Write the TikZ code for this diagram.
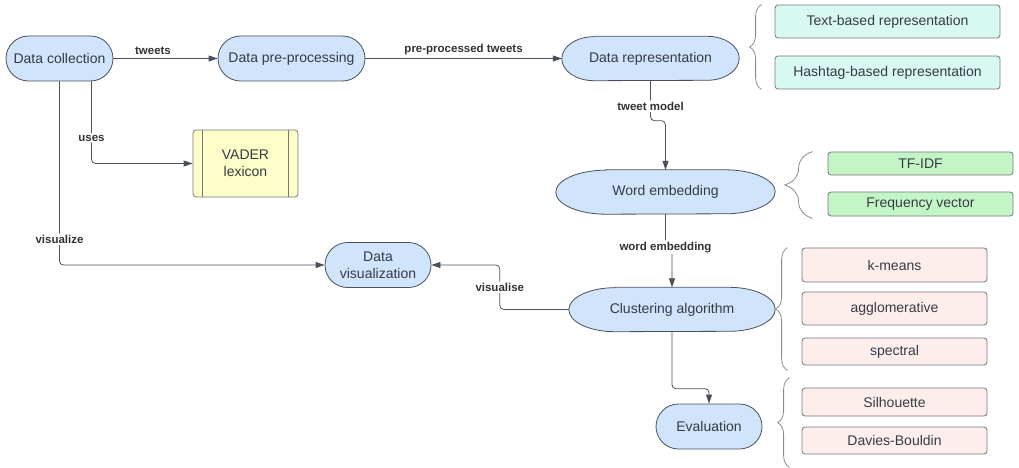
\documentclass[tikz,border=0pt]{standalone}
\usepackage{fontspec}
\setmainfont{Liberation Sans}
\usetikzlibrary{arrows.meta,calc,decorations.pathreplacing}
\pgfdeclarelayer{background}
\pgfsetlayers{background,main}
\definecolor{procblue}{HTML}{D0E4FC}
\definecolor{repcyan}{HTML}{D8F8F2}
\definecolor{embgreen}{HTML}{C4F5C6}
\definecolor{algpink}{HTML}{FDEEEC}
\definecolor{lexyellow}{HTML}{FEFEC8}
\definecolor{edgegray}{HTML}{4A505C}
\definecolor{boxgray}{HTML}{75787E}
\definecolor{txtgray}{HTML}{363B45}
\begin{document}
\begin{tikzpicture}[x=1pt,y=1pt,>={Triangle[length=9pt,width=6pt]},
  proc/.style={draw=edgegray,line width=0.8pt,fill=procblue,text=txtgray,rounded corners=22.5pt,
    minimum height=45pt,inner sep=0pt,align=center,font=\fontsize{14}{16.5}\selectfont},
  oval/.style={text=txtgray,minimum height=44pt,inner sep=0pt,font=\fontsize{14}{16.5}\selectfont},
  opt/.style={draw=boxgray,line width=0.8pt,rounded corners=3pt,inner sep=0pt,text=txtgray,
    font=\fontsize{14}{16.5}\selectfont},
  flow/.style={draw=edgegray,line width=0.8pt,->,rounded corners=4pt},
  lbl/.style={fill=white,text=black!80,inner sep=1.5pt,font=\bfseries\fontsize{11.5}{13}\selectfont},
  brc/.style={draw=black!45,line width=0.8pt,decorate,decoration={brace,amplitude=#1}}]
  \useasboundingbox (0,0) rectangle (1019,-468);

  \node[proc,minimum width=107pt] (dc) at (59.5,-58.5) {Data collection};
  \node[proc,minimum width=147pt] (pp) at (291.5,-58.5) {Data pre-processing};
  \node[oval,minimum width=177pt] (drep) at (650.5,-58.5) {Data representation};
  \node[oval,minimum width=219pt] (wemb) at (665.5,-192) {Word embedding};
  \node[oval,minimum width=206pt] (clus) at (672,-309.5) {Clustering algorithm};
  \node[proc,minimum width=106pt] (dviz) at (378,-265) {Data\\visualization};
  \node[proc,minimum width=106pt] (evl) at (709,-426.5) {Evaluation};
  \node[opt,fill=lexyellow,minimum width=105pt,minimum height=67pt,align=center] (vader) at (245.5,-163.5) {VADER\\lexicon};
  \draw[boxgray,line width=0.8pt] ([xshift=10pt]vader.north west) -- ([xshift=10pt]vader.south west);
  \draw[boxgray,line width=0.8pt] ([xshift=-10pt]vader.north east) -- ([xshift=-10pt]vader.south east);

  \node[opt,fill=repcyan,minimum width=225pt,minimum height=33pt] (tb) at (887.5,-21.5) {Text-based representation};
  \node[opt,fill=repcyan,minimum width=225pt,minimum height=33pt] (hb) at (887.5,-72.5) {Hashtag-based representation};
  \node[opt,fill=embgreen,minimum width=185pt,minimum height=23pt] (tfidf) at (920.5,-163.5) {TF-IDF};
  \node[opt,fill=embgreen,minimum width=185pt,minimum height=24pt] (freq) at (920.5,-204) {Frequency vector};
  \node[opt,fill=algpink,minimum width=185pt,minimum height=34pt] (km) at (894.5,-265) {k-means};
  \node[opt,fill=algpink,minimum width=185pt,minimum height=33pt] (agg) at (894.5,-308.5) {agglomerative};
  \node[opt,fill=algpink,minimum width=185pt,minimum height=27pt] (spec) at (894.5,-351.5) {spectral};
  \node[opt,fill=algpink,minimum width=185pt,minimum height=28pt] (sil) at (894.5,-402) {Silhouette};
  \node[opt,fill=algpink,minimum width=185pt,minimum height=27pt] (db) at (894.5,-440.5) {Davies-Bouldin};

  \begin{pgfonlayer}{background}
    \foreach \n/\r in {drep/32,wemb/50,clus/46}
      \draw[draw=edgegray,line width=0.8pt,fill=procblue]
        ($(\n.north west)+(\r,0)$) -- ($(\n.north east)+(-\r,0)$)
        arc[start angle=90,end angle=-90,x radius=\r,y radius=22]
        -- ($(\n.south west)+(\r,0)$)
        arc[start angle=270,end angle=90,x radius=\r,y radius=22] -- cycle;
  \end{pgfonlayer}

  \draw[flow] (dc) -- node[lbl,fill=none,above=2pt,pos=0.38] {tweets} (pp);
  \draw[flow] (pp) -- node[lbl,fill=none,above=2pt] {pre-processed tweets} (drep);
  \draw[flow] (drep.south) -- node[lbl,pos=0.64] {tweet model} ++(0,-40) -| (wemb.north);
  \draw[flow] (wemb.south) -- ++(0,-33) node[lbl] {word embedding} -| (clus.north);
  \draw[flow] (clus.south) -- ++(0,-57) -| (evl.north);
  \draw[flow] (clus.west) -- ++(-69,0) |- node[lbl,pos=0.25] {visualise} (dviz.east);
  \draw[flow] (dc.south) |- node[lbl,pos=0.43] {visualize} (dviz.west);
  \draw[flow] ([xshift=32pt]dc.south) |- node[lbl,pos=0.345] {uses} (vader.west);

  \draw[brc=12] ([xshift=-13pt]hb.south west) -- ([xshift=-13pt]tb.north west);
  \draw[brc=28] ([xshift=-15pt,yshift=-2pt]freq.south west) -- ([xshift=-15pt]tfidf.north west);
  \draw[brc=12] ([xshift=-14pt,yshift=-5pt]spec.south west) -- ([xshift=-14pt]km.north west);
  \draw[brc=12] ([xshift=-12pt,yshift=-13pt]db.south west) -- ([xshift=-12pt,yshift=10pt]sil.north west);
\end{tikzpicture}
\end{document}
